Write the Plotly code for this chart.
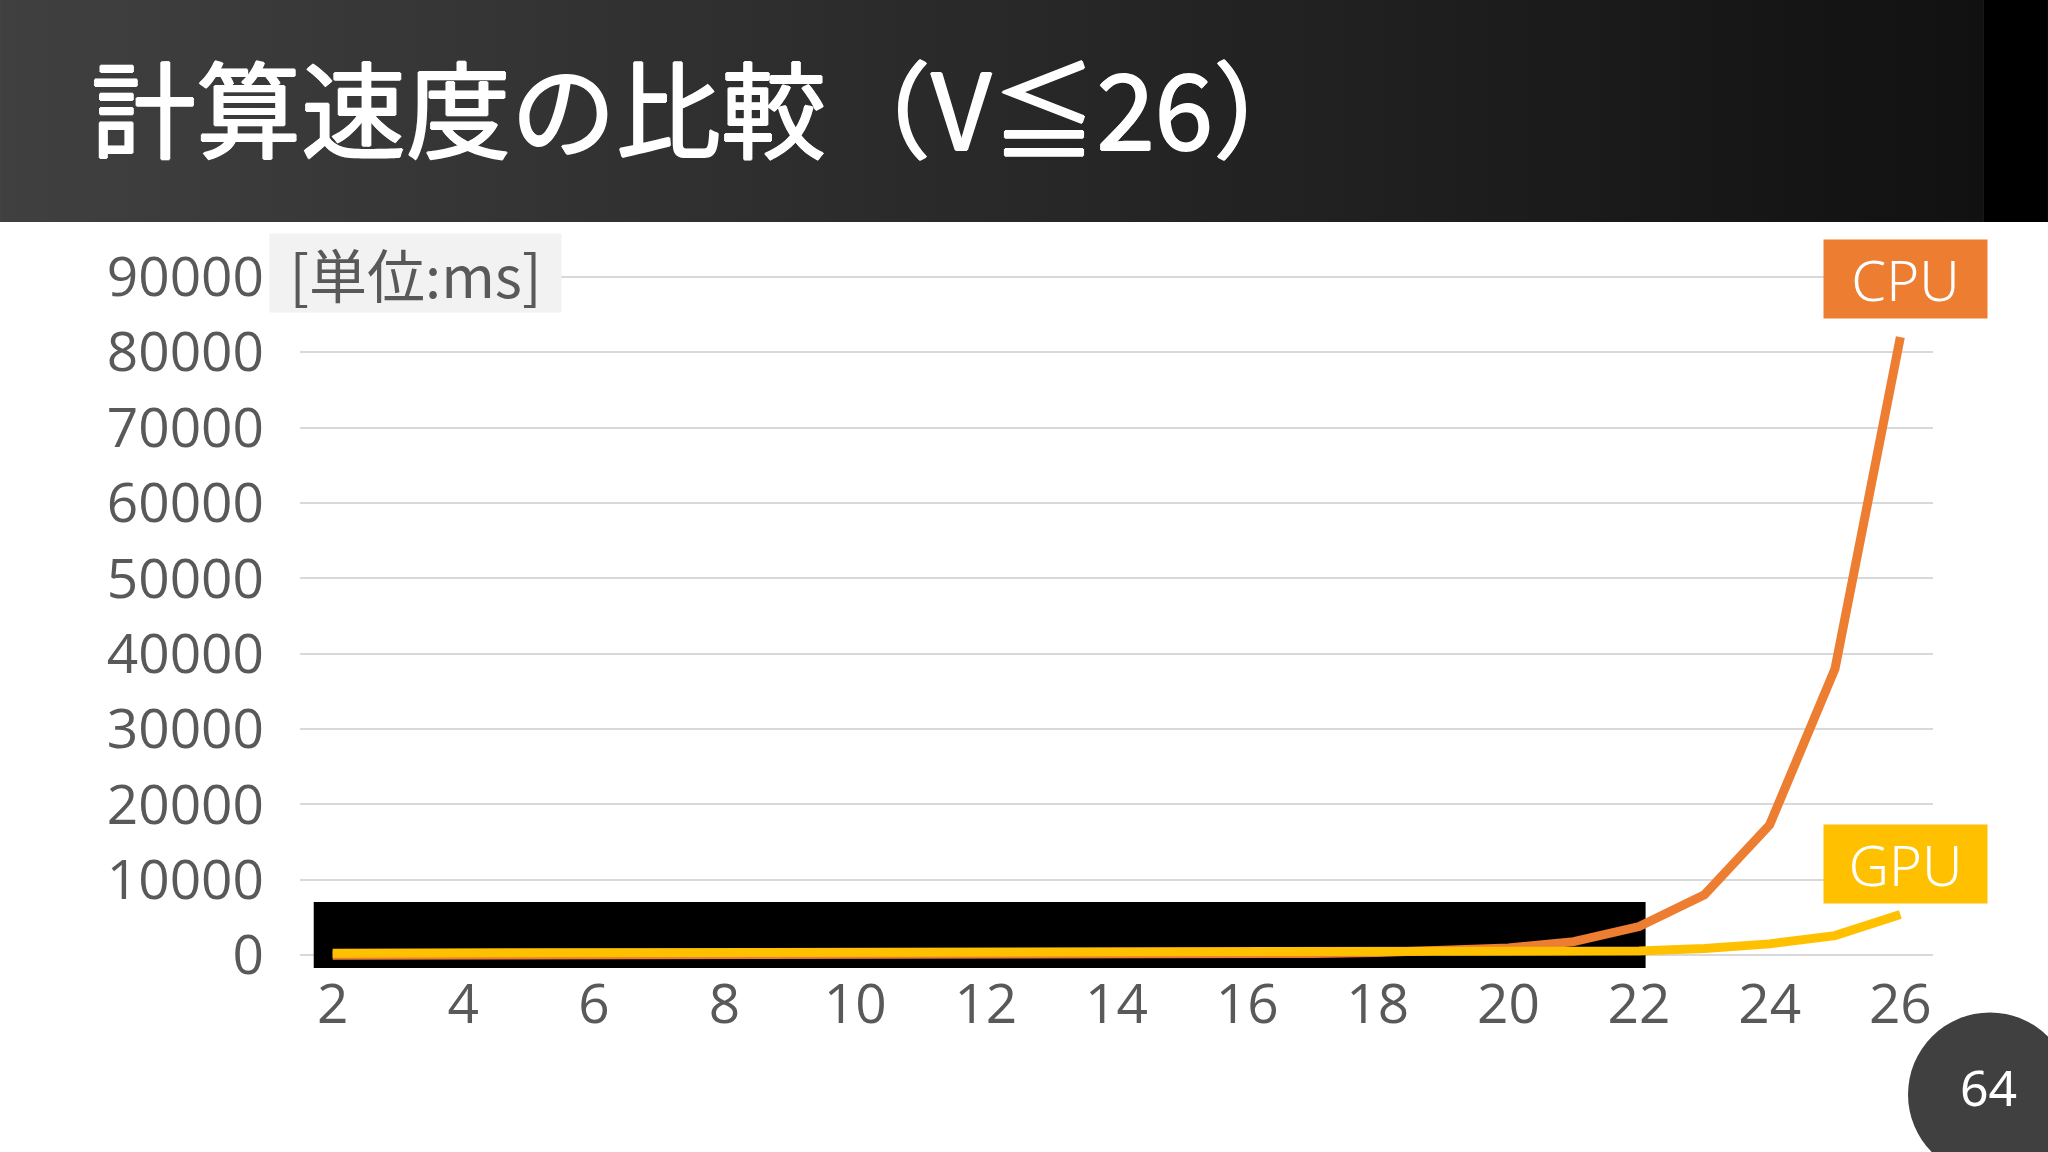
import base64
import plotly.graph_objects as go

# values (ms)
V = list(range(2, 27))
cpu_ms = [0, 0, 0, 0, 1, 1, 2, 3, 5, 8, 14, 25, 45, 80, 130, 220, 350, 550, 950,
          1800, 3800, 8000, 17300, 38000, 82000]
gpu_ms = [270, 270, 270, 270, 270, 270, 270, 270, 270, 270, 270, 270, 270, 270,
          270, 280, 300, 330, 380, 450, 560, 900, 1500, 2600, 5400]
y_ticks = [0, 10000, 20000, 30000, 40000, 50000, 60000, 70000, 80000, 90000]
x_ticks = [2, 4, 6, 8, 10, 12, 14, 16, 18, 20, 22, 24, 26]

ORANGE = "#ED7D31"
YELLOW = "#FFC000"
GREY = "#595959"

# dark gradient header as an svg image
band_svg = (
    "<svg xmlns='http://www.w3.org/2000/svg' width='2048' height='227' "
    "preserveAspectRatio='none'><defs><linearGradient id='g' x1='0' x2='1'>"
    "<stop offset='0' stop-color='#404040'/><stop offset='1' stop-color='#111111'/>"
    "</linearGradient></defs><rect width='1984' height='227' fill='url(#g)'/>"
    "<rect x='1984' width='64' height='227' fill='#000000'/></svg>"
)
band_src = "data:image/svg+xml;base64," + base64.b64encode(band_svg.encode()).decode()

fig = go.Figure()

fig.add_trace(go.Scatter(x=V, y=cpu_ms, name="CPU", mode="lines",
                         line=dict(color=ORANGE, width=9), showlegend=False))
fig.add_trace(go.Scatter(x=V, y=gpu_ms, name="GPU", mode="lines",
                         line=dict(color=YELLOW, width=9), showlegend=False))

# black box over the low part of the chart
fig.add_shape(type="rect", xref="x", yref="y", x0=1.71, x1=22.1, y0=-1700, y1=7070,
              fillcolor="black", line=dict(width=0), layer="between")

# page number circle
fig.add_shape(type="circle", xref="paper", yref="paper", x0=0.9847, x1=1.0851,
              y0=-0.2998, y1=-0.0640, fillcolor="#404040", line=dict(width=0),
              layer="above")

fig.add_layout_image(source=band_src, xref="paper", yref="paper", x=-0.1837, y=1.40,
                     sizex=1.2541, sizey=0.3267, sizing="stretch", xanchor="left",
                     yanchor="top", layer="below")

fig.add_annotation(text="計算速度の比較（V≦26）", xref="paper", yref="paper",
                   x=-0.1295, y=1.2429, xanchor="left", yanchor="middle", showarrow=False,
                   font=dict(family="Noto Sans CJK JP", size=105, color="white",
                             shadow="1px 0px 0px white, -1px 0px 0px white, "
                                    "0px 1px 0px white, 0px -1px 0px white"))

fig.add_annotation(text="[単位:ms]", xref="paper", yref="paper", x=0.071, y=1.0007,
                   xanchor="center", yanchor="middle", showarrow=False,
                   width=291, height=78, bgcolor="#F2F2F2", borderpad=0,
                   font=dict(family="Noto Sans CJK JP", size=58, color=GREY))

fig.add_annotation(text="CPU", xref="paper", yref="paper", x=0.9829, y=0.9911,
                   xanchor="center", yanchor="middle", showarrow=False,
                   width=163, height=78, bgcolor=ORANGE, borderpad=0,
                   font=dict(family="Noto Sans", size=56, color="white", weight=300))

fig.add_annotation(text="GPU", xref="paper", yref="paper", x=0.9829, y=0.1503,
                   xanchor="center", yanchor="middle", showarrow=False,
                   width=163, height=78, bgcolor=YELLOW, borderpad=0,
                   font=dict(family="Noto Sans", size=56, color="white", weight=300))

fig.add_annotation(text="64", xref="paper", yref="paper", x=1.0337, y=-0.1718,
                   xanchor="center", yanchor="middle", showarrow=False,
                   font=dict(family="Noto Sans", size=50, color="white"))

fig.update_xaxes(range=[1.5, 26.5], tickvals=x_ticks, showgrid=False, zeroline=False,
                 showline=False, ticks="outside", ticklen=0, ticklabelstandoff=-12,
                 tickfont=dict(family="Open Sans", size=55, color=GREY))
fig.update_yaxes(range=[-1700, 90500], tickvals=y_ticks, tickformat="d",
                 showgrid=True, gridcolor="#D9D9D9", gridwidth=2, zeroline=False,
                 showline=False, ticks="outside", ticklen=0, ticklabelstandoff=24,
                 tickfont=dict(family="Open Sans", size=55, color=GREY))

fig.update_layout(width=2048, height=1152,
                  margin=dict(l=300, r=115, t=273, b=184),
                  paper_bgcolor="white", plot_bgcolor="white")

fig.write_html("out.html", config={"displayModeBar": False},
               post_script="document.body.style.margin='0';")
